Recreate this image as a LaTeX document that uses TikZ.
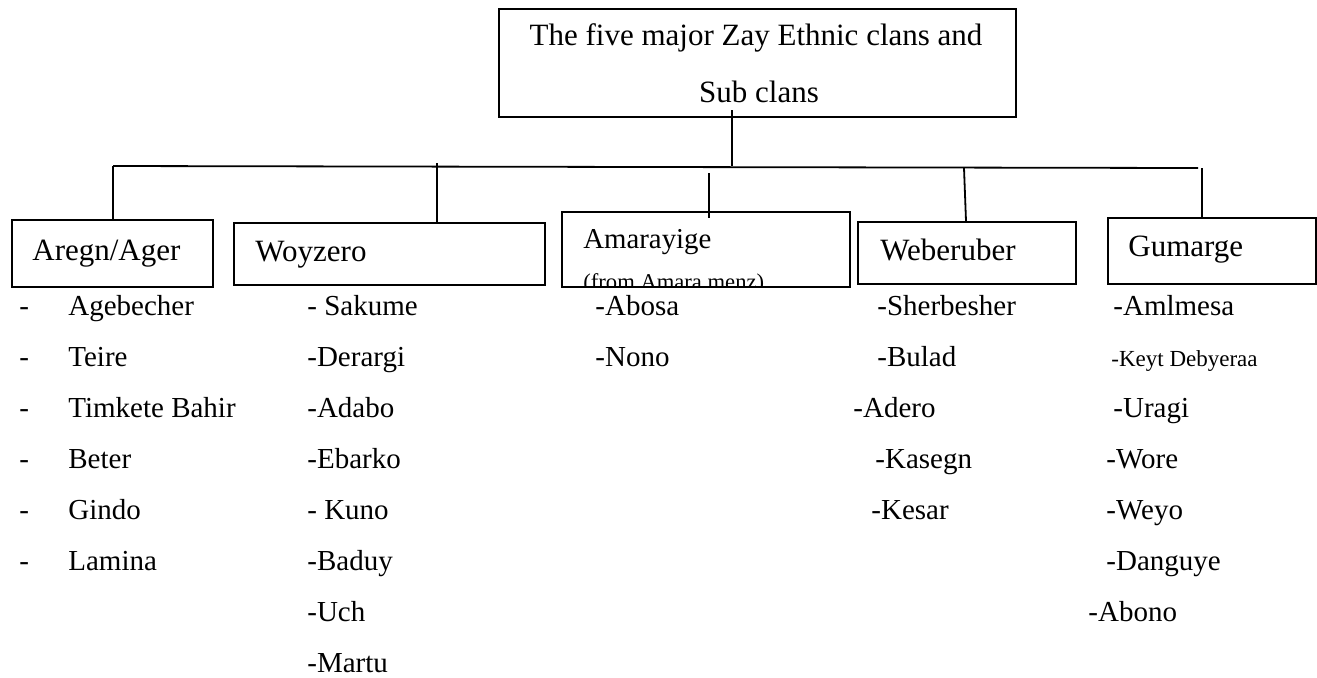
\documentclass[tikz,border=0pt]{standalone}
\usepackage{fontspec}
\setmainfont{Liberation Serif}

\begin{document}
\begin{tikzpicture}[x=0.5pt, y=-0.5pt,
  clan/.style={draw, line width=0.9pt, anchor=north west, inner sep=0pt},
  headline/.style={anchor=base, inner sep=0pt, font=\fontsize{15.5}{18}\selectfont},
  clanname/.style={anchor=base west, inner sep=0pt, font=\fontsize{15.5}{18}\selectfont},
  sub/.style={anchor=base west, inner sep=0pt, font=\fontsize{14.5}{17}\selectfont},
  subsmall/.style={sub, font=\fontsize{11.5}{14}\selectfont},
  link/.style={line width=0.9pt},
]
\useasboundingbox (0,0) rectangle (1317,677);

% boxes, placed by their top left corner
\node[clan, minimum width=258.5pt, minimum height=54pt]   (top)     at (498,8)    {};
\node[clan, minimum width=100.5pt, minimum height=33.5pt] (aregn)   at (11,219)   {};
\node[clan, minimum width=155.5pt, minimum height=31pt]   (woyzero) at (233,222)  {};
\node[clan, minimum width=144pt,   minimum height=37.5pt] (amara)   at (561,211)  {};
\node[clan, minimum width=109pt,   minimum height=31pt]   (weber)   at (857,221)  {};
\node[clan, minimum width=104pt,   minimum height=33pt]   (gumarge) at (1107,217) {};

\node[headline] (topA) at (756,45)  {The five major Zay Ethnic clans and};
\node[headline] (topB) at (759,102) {Sub clans};

\node[clanname] (aregnT)   at (32,260)   {Aregn/Ager};
\node[clanname] (woyzeroT) at (255,261)  {Woyzero};
\node[clanname, font=\fontsize{14.4}{17}\selectfont] (amaraT) at (583,248) {Amarayige};
\begin{scope}
  \clip (amara.north west) rectangle (amara.south east);
  \node[subsmall, font=\fontsize{11.3}{14}\selectfont] (amaraS) at (583,289) {(from Amara menz)};
\end{scope}
\node[clanname] (weberT)   at (880,260)  {Weberuber};
\node[clanname] (gumargeT) at (1128,256) {Gumarge};

% the tree
\coordinate (busW)    at (113,166);
\coordinate (busE)    at (1198,168);
\coordinate (stemtop) at (732,110);
\coordinate (stem)    at (732,166);
\coordinate (dropW)   at (437,163);
\coordinate (dropA)   at (709,173);
\coordinate (dropAend) at (709,218);
\coordinate (dropWb)  at (964,168);
\coordinate (dropWbend) at (966,221);
\coordinate (dropG)   at (1202,168);

\draw[link] (busW) -- (busE);
\draw[link] (stemtop) -- (stem);
\draw[link] (busW) -- (busW |- aregn.north);
\draw[link] (dropW) -- (dropW |- woyzero.north);
\draw[link] (dropA) -- (dropAend);
\draw[link] (dropWb) -- (dropWbend);
\draw[link] (dropG) -- (dropG |- gumarge.north);

% sub clans, one row every 51 units
\node[sub] (ag1) at (19,315) {\makebox[24.5pt][l]{-}Agebecher};
\node[sub] (ag2) at (19,366) {\makebox[24.5pt][l]{-}Teire};
\node[sub] (ag3) at (19,417) {\makebox[24.5pt][l]{-}Timkete Bahir};
\node[sub] (ag4) at (19,468) {\makebox[24.5pt][l]{-}Beter};
\node[sub] (ag5) at (19,519) {\makebox[24.5pt][l]{-}Gindo};
\node[sub] (ag6) at (19,570) {\makebox[24.5pt][l]{-}Lamina};

\node[sub] (wo1) at (307,315) {- Sakume};
\node[sub] (wo2) at (307,366) {-Derargi};
\node[sub] (wo3) at (307,417) {-Adabo};
\node[sub] (wo4) at (307,468) {-Ebarko};
\node[sub] (wo5) at (307,519) {- Kuno};
\node[sub] (wo6) at (307,570) {-Baduy};
\node[sub] (wo7) at (307,621) {-Uch};
\node[sub] (wo8) at (307,672) {-Martu};

\node[sub] (am1) at (595,315) {-Abosa};
\node[sub] (am2) at (595,366) {-Nono};

\node[sub] (we1) at (877,315) {-Sherbesher};
\node[sub] (we2) at (877,366) {-Bulad};
\node[sub] (we3) at (853,417) {-Adero};
\node[sub] (we4) at (875,468) {-Kasegn};
\node[sub] (we5) at (871,519) {-Kesar};

\node[sub]      (gu1) at (1113,315) {-Amlmesa};
\node[subsmall] (gu2) at (1111,366) {-Keyt Debyeraa};
\node[sub]      (gu3) at (1113,417) {-Uragi};
\node[sub]      (gu4) at (1106,468) {-Wore};
\node[sub]      (gu5) at (1106,519) {-Weyo};
\node[sub]      (gu6) at (1106,570) {-Danguye};
\node[sub]      (gu7) at (1088,621) {-Abono};
\end{tikzpicture}
\end{document}
